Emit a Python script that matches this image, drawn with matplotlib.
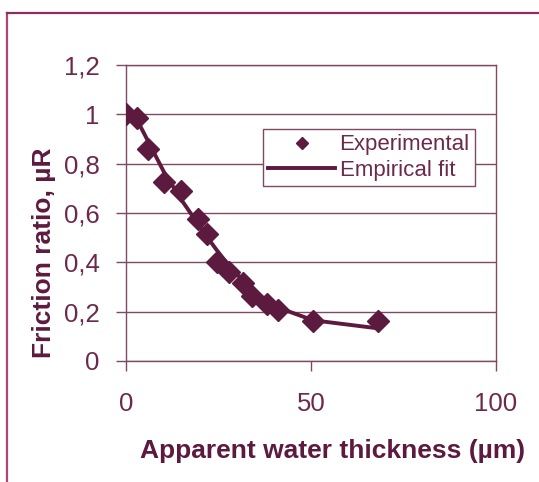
import matplotlib
matplotlib.use('Agg')
import matplotlib.pyplot as plt
from matplotlib.lines import Line2D

plt.rcParams['font.family'] = ['Liberation Sans', 'DejaVu Sans']

# Data
thickness = [0, 2.9, 6.0, 10.3, 14.9, 19.5, 21.8, 24.5, 27.9, 31.7, 34.0, 38.0, 41.2, 50.6, 68.0]
friction = [1.0, 0.985, 0.86, 0.725, 0.69, 0.575, 0.515, 0.40, 0.36, 0.315, 0.265, 0.23, 0.207, 0.163, 0.163]
fit_x = [0, 2.9, 6.0, 10.3, 14.9, 19.5, 21.8, 24.5, 27.9, 31.7, 34.0, 38.0, 43.4, 50.6, 67.8]
fit_y = [1.0, 0.98, 0.89, 0.765, 0.655, 0.555, 0.505, 0.45, 0.385, 0.325, 0.29, 0.245, 0.204, 0.165, 0.133]
yticks = [0, 0.2, 0.4, 0.6, 0.8, 1.0, 1.2]
ytick_labels = ['0', '0,2', '0,4', '0,6', '0,8', '1', '1,2']
xticks = [0, 50, 100]

maroon = '#5c1a3e'
txt = '#6b2a4c'
grid = '#7c4a62'

fig = plt.figure(figsize=(5.39, 4.82), dpi=100)
# outer frame: only top and left edges show
bx, by = 6.5/539, 1 - 13/482
fig.lines.append(Line2D([bx, bx], [0, by], transform=fig.transFigure, color='#a8487a', lw=1.6))
fig.lines.append(Line2D([bx, 1], [by, by], transform=fig.transFigure, color='#8a2f5e', lw=1.6))

ax = fig.add_axes([126/539, 1 - 361/482, 370/539, 296/482])

ax.plot(fit_x, fit_y, color=maroon, lw=2.8, label='Empirical fit', zorder=3)
ax.plot(thickness, friction, 'D', color=maroon, markersize=11, label='Experimental', zorder=4)

ax.set_xlim(0, 100)
ax.set_ylim(0, 1.2)
ax.set_yticks(yticks)
ax.set_yticklabels(ytick_labels)
ax.set_xticks(xticks)
ax.yaxis.grid(True, color=grid, lw=1)
ax.set_axisbelow(True)
for s in ax.spines.values():
    s.set_color(grid)
    s.set_linewidth(1)
ax.tick_params(axis='y', direction='out', length=7, width=1, color=grid, pad=12, labelsize=18.5, labelcolor=txt)
ax.tick_params(axis='x', direction='out', length=7, width=1, color=grid, pad=15, labelsize=18.5, labelcolor=txt)

ax.set_xlabel('Apparent water thickness (µm)', fontsize=19, fontweight='bold', color=maroon)
ax.set_ylabel('Friction ratio, µR', fontsize=19, fontweight='bold', color=maroon)
ax.xaxis.set_label_coords(0.559, -0.262)
ax.yaxis.set_label_coords(-0.19, 0.365)

h, l = ax.get_legend_handles_labels()
leg = ax.legend([h[1], h[0]], [l[1], l[0]], loc='upper left', bbox_to_anchor=(0.37, 0.784),
                borderaxespad=0, fontsize=16, frameon=True, fancybox=False, edgecolor=grid, framealpha=1,
                handlelength=3.0, handletextpad=0.2, borderpad=0.25, labelspacing=0.2, markerscale=0.6)
leg.get_frame().set_linewidth(1)
for t in leg.get_texts():
    t.set_color(txt)

fig.savefig('out.png', dpi=100)
